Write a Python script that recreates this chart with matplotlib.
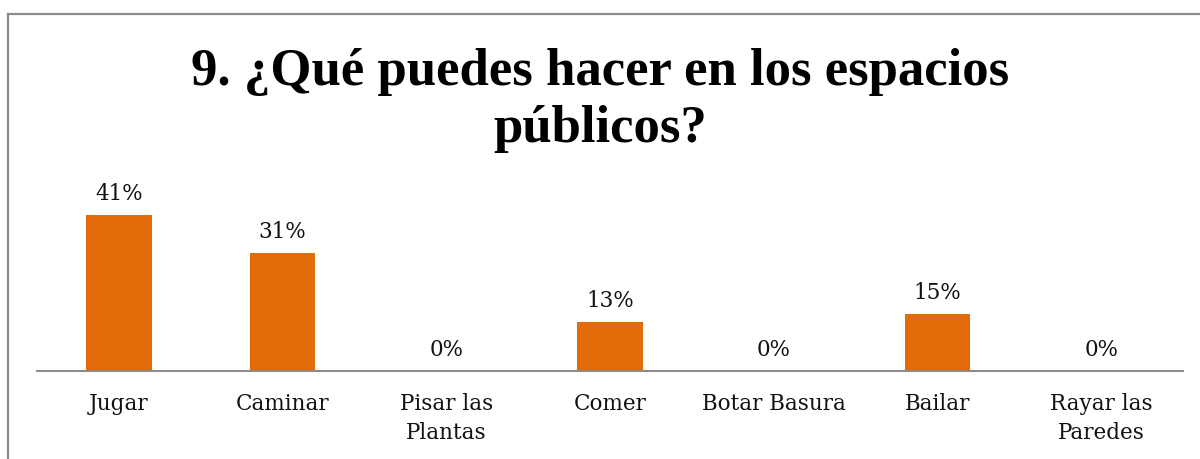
import matplotlib
matplotlib.use("Agg")
import matplotlib.pyplot as plt
from matplotlib.lines import Line2D

categories = ["Jugar", "Caminar", "Pisar las\nPlantas", "Comer", "Botar Basura", "Bailar", "Rayar las\nParedes"]
values = [0.41, 0.31, 0.0, 0.13, 0.0, 0.15, 0.0]
value_labels = ["41%", "31%", "0%", "13%", "0%", "15%", "0%"]
title = "9. ¿Qué puedes hacer en los espacios\npúblicos?"

bar_color = "#E36C0A"
grey = "#8C8C8C"
label_font = ["DejaVu Serif"]
title_font = ["Liberation Serif", "DejaVu Serif"]

W, H = 1200, 459
fig = plt.figure(figsize=(W / 100, H / 100), dpi=100)
fig.patch.set_facecolor("white")

# outer chart frame (top and left edges)
fig.add_artist(Line2D([8 / W, 8 / W], [0, 1 - 14 / H], transform=fig.transFigure, color=grey, lw=1.6))
fig.add_artist(Line2D([8 / W, 1], [1 - 14 / H, 1 - 14 / H], transform=fig.transFigure, color=grey, lw=1.6))

ax_left, ax_right = 37 / W, 1183 / W
ax_bottom = (H - 371) / H
ymax = 0.45
ax_top_px = 371 - ymax * 100 * 3.8
ax = fig.add_axes([ax_left, ax_bottom, ax_right - ax_left, (371 - ax_top_px) / H])

x = range(len(categories))
bars = ax.bar(x, values, width=0.4, color=bar_color)
ax.set_xlim(-0.5, len(categories) - 0.5)
ax.set_ylim(0, ymax)

for b, v, lab in zip(bars, values, value_labels):
    ax.annotate(lab, (b.get_x() + b.get_width() / 2, v), xytext=(0, 7),
                textcoords="offset points", ha="center", va="bottom",
                fontsize=15.5, family=label_font, color="#111111")

ax.set_xticks(list(x))
ax.set_xticklabels(categories, fontsize=15.5, linespacing=1.4, family=label_font, color="#111111")
ax.tick_params(axis="x", length=0, pad=16)
ax.set_yticks([])
for s in ["top", "right", "left"]:
    ax.spines[s].set_visible(False)
ax.spines["bottom"].set_color(grey)
ax.spines["bottom"].set_linewidth(1.5)

fig.text(0.5, 1 - 48 / H, title, ha="center", va="top", fontsize=38,
         fontweight="bold", linespacing=1.25, family=title_font)

fig.savefig("out.png", dpi=100)
